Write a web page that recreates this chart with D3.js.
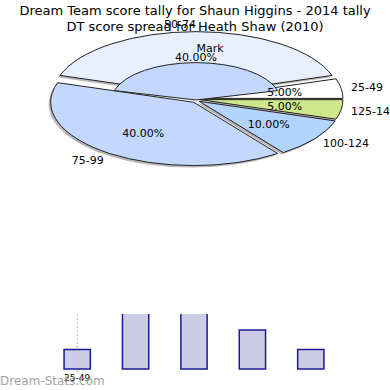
<!DOCTYPE html>
<html><head><meta charset="utf-8">
<script src="https://cdn.jsdelivr.net/npm/d3@7"></script>
<style>body{margin:0;background:#fff}svg{display:block;font-family:"DejaVu Sans",sans-serif}</style>
</head><body>
<script>
// ---- data ----
const categories = ['25-49','50-74','75-99','100-124','125-149'];
const games = [1, 8, 8, 2, 1];
const sliceColors = ['#ffffff','#e8f0ff','#c4d8ff','#b3d4ff','#cde98b'];
const pieOrder = ['50-74','25-49','125-149','100-124','75-99'];
const innerLabel = 'Mark';
const barTicks = ['25-49'];
const titleTop = 'Dream Team score tally for Shaun Higgins - 2014 tally';
const titlePie = 'DT score spread for Heath Shaw (2010)';
const watermark = 'Dream-Stats.com';

(function () {
const W = 390, H = 390;
const svg = d3.select('body').append('svg').attr('width', W).attr('height', H);

// ---- bar chart (underneath) ----
const x = d3.scaleBand().domain(categories).range([48, 340]);
const y = d3.scaleLinear().domain([0, 10]).range([369, 174]);
const bar = svg.append('g');
bar.selectAll('line.grid').data(barTicks).join('line')
  .attr('x1', d => x(d) + x.bandwidth()/2).attr('x2', d => x(d) + x.bandwidth()/2)
  .attr('y1', y(10)).attr('y2', y(0) + 3)
  .attr('stroke', '#bbb').attr('stroke-dasharray', '2,2');
const bw = x.bandwidth() * 0.45;
bar.selectAll('rect').data(categories).join('rect')
  .attr('x', d => x(d) + (x.bandwidth() - bw)/2)
  .attr('width', bw)
  .attr('y', (d,i) => y(games[i]))
  .attr('height', (d,i) => y(0) - y(games[i]))
  .attr('fill', '#ccccE6').attr('stroke', '#1a1a99').attr('stroke-width', 1.5);
svg.append('text').attr('x', 0).attr('y', 385).text(watermark)
  .attr('fill', '#999').attr('font-size', 12).attr('opacity', 0.9);
bar.selectAll('text.tick').data(barTicks).join('text')
  .attr('x', d => x(d) + x.bandwidth()/2).attr('y', 381)
  .attr('text-anchor', 'middle').attr('font-size', 9).text(d => d);

// ---- pie chart canvas covering the top ----
svg.append('rect').attr('x', 0).attr('y', 0).attr('width', W).attr('height', 314).attr('fill', '#fff');

const cx = 196, cy = 99, rx = 143, k = 0.443, ex = 4;
const total = d3.sum(games);
const pieData = pieOrder.map(c => { const i = categories.indexOf(c); return {cat: c, value: games[i], color: sliceColors[i]}; });
const pie = d3.pie().sort(null).value(d => d.value)
  .startAngle(-0.4 * Math.PI).endAngle(1.6 * Math.PI);
const arcs = pie(pieData);
const arc = d3.arc().innerRadius(0).outerRadius(rx);
const mid = a => (a.startAngle + a.endAngle) / 2;
const off = a => [ex * Math.sin(mid(a)), -ex * Math.cos(mid(a))];

const pg = svg.append('g');
pg.selectAll('path.sh').data(arcs).join('path').attr('class', 'sh')
  .attr('transform', a => { const o = off(a); return `translate(${cx + o[0] - 2},${cy + o[1] + 2}) scale(1,${k})`; })
  .attr('d', arc).attr('fill', '#888').attr('opacity', 0.6);
pg.selectAll('path.sl').data(arcs).join('path').attr('class', 'sl')
  .attr('transform', a => { const o = off(a); return `translate(${cx + o[0]},${cy + o[1]}) scale(1,${k})`; })
  .attr('d', arc).attr('fill', a => a.data.color)
  .attr('stroke', '#222').attr('stroke-width', 1).attr('vector-effect', 'non-scaling-stroke');
const topSlice = arcs[0];
const innerArc = d3.arc().innerRadius(0).outerRadius(rx * 0.59);
pg.append('path')
  .attr('transform', `translate(${cx},${cy + 1}) scale(1,${k})`)
  .attr('d', innerArc({startAngle: topSlice.startAngle - 0.06, endAngle: topSlice.endAngle + 0.06}))
  .attr('fill', sliceColors[2])
  .attr('stroke', '#222').attr('stroke-width', 1).attr('vector-effect', 'non-scaling-stroke');

const pr = rx * 0.6;
pg.selectAll('text.pct').data(arcs).join('text').attr('class', 'pct')
  .attr('x', a => cx + off(a)[0] + pr * Math.sin(mid(a)))
  .attr('y', a => cy + off(a)[1] - pr * k * Math.cos(mid(a)) + 4)
  .attr('text-anchor', 'middle').attr('font-size', 11)
  .text(a => (a.data.value / total * 100).toFixed(2) + '%');
const Rx = 157, Ry = 75;
pg.selectAll('text.lab').data(arcs).join('text').attr('class', 'lab')
  .attr('x', a => cx + Rx * Math.sin(mid(a)))
  .attr('y', a => cy - Ry * Math.cos(mid(a)) + 4)
  .attr('text-anchor', a => Math.sin(mid(a)) > 0.01 ? 'start' : 'end')
  .attr('font-size', 11).text(a => a.data.cat);
pg.append('text').attr('x', cx + 14).attr('y', cy - 47)
  .attr('text-anchor', 'middle').attr('font-size', 11).text(innerLabel);

svg.append('text').attr('x', W/2).attr('y', 15).attr('text-anchor', 'middle').attr('font-size', 13).text(titleTop);
svg.append('text').attr('x', W/2).attr('y', 31).attr('text-anchor', 'middle').attr('font-size', 13).text(titlePie);
})();
</script>
</body></html>
